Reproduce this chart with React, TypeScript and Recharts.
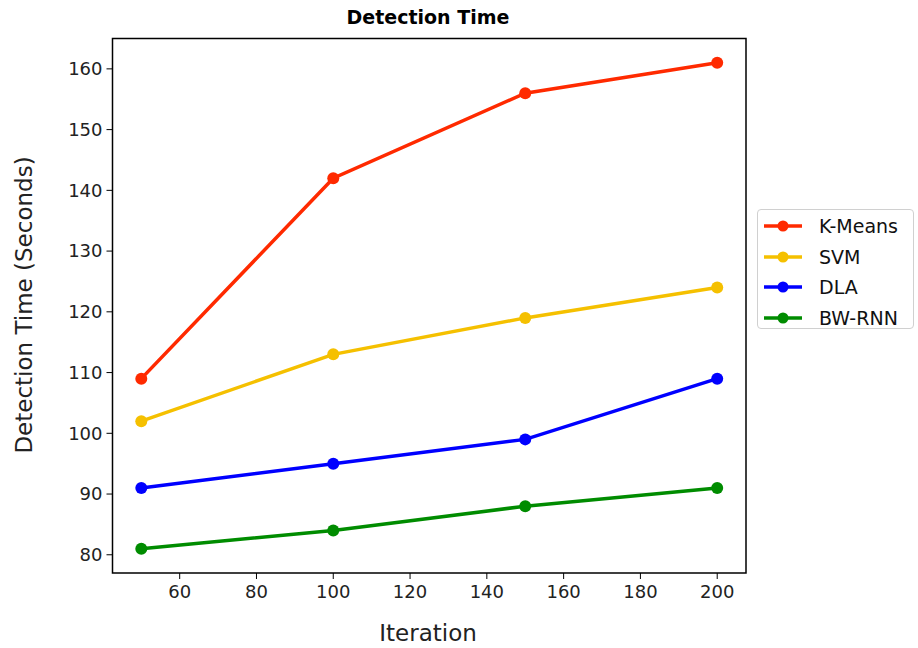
import React from "react";
import { LineChart, Line, XAxis, YAxis, ReferenceArea } from "recharts";

const iterations = [50, 100, 150, 200];
const kMeans = [109, 142, 156, 161];
const svm = [102, 113, 119, 124];
const dla = [91, 95, 99, 109];
const bwRnn = [81, 84, 88, 91];
const xTicks = [60, 80, 100, 120, 140, 160, 180, 200];
const yTicks = [80, 90, 100, 110, 120, 130, 140, 150, 160];

const seriesInfo = [
  { key: "kmeans", name: "K-Means", color: "#ff2a00" },
  { key: "svm", name: "SVM", color: "#f5c000" },
  { key: "dla", name: "DLA", color: "#0000ff" },
  { key: "bwrnn", name: "BW-RNN", color: "#008c00" },
];

const data = iterations.map((it, i) => ({
  it,
  kmeans: kMeans[i],
  svm: svm[i],
  dla: dla[i],
  bwrnn: bwRnn[i],
}));

const FONT = "'DejaVu Sans', sans-serif";

const LegendBox = () => (
  <div
    style={{
      position: "absolute",
      left: 757,
      top: 209,
      width: 157,
      height: 120,
      border: "1px solid #d0d0d0",
      borderRadius: 4,
      background: "#fff",
      padding: "1px 0 0 5px",
      fontFamily: FONT,
      fontSize: 19,
      color: "#111",
      boxSizing: "border-box",
    }}
  >
    {seriesInfo.map((s) => (
      <div key={s.key} style={{ display: "flex", alignItems: "center", height: 30.5 }}>
        <svg width={40} height={14} style={{ marginRight: 16 }}>
          <line x1={1} y1={7} x2={39} y2={7} stroke={s.color} strokeWidth={3.5} />
          <circle cx={20} cy={7} r={5.5} fill={s.color} />
        </svg>
        <span>{s.name}</span>
      </div>
    ))}
  </div>
);

export default function App() {
  return (
    <div style={{ position: "absolute", left: 0, top: 0, width: 918, height: 648, background: "#fff" }}>
      <LineChart
        width={918}
        height={648}
        data={data}
        margin={{ top: 38.5, right: 172, left: 0, bottom: 0 }}
      >
        <text x={428} y={24} textAnchor="middle" fontFamily={FONT} fontWeight="bold" fontSize={19} fill="#000">
          Detection Time
        </text>
        <text x={428} y={641} textAnchor="middle" fontFamily={FONT} fontSize={23} fill="#222">
          Iteration
        </text>
        <text
          x={32}
          y={305}
          textAnchor="middle"
          fontFamily={FONT}
          fontSize={23}
          fill="#222"
          transform="rotate(-90 32 305)"
        >
          Detection Time (Seconds)
        </text>
        <XAxis
          dataKey="it"
          type="number"
          domain={[42.5, 207.5]}
          ticks={xTicks}
          height={75}
          axisLine={false}
          tickLine={{ stroke: "#000", strokeWidth: 1 }}
          tickSize={6}
          tickMargin={6}
          tick={{ fontFamily: FONT, fontSize: 18, fill: "#222" }}
          allowDataOverflow
        />
        <YAxis
          type="number"
          domain={[77, 165]}
          ticks={yTicks}
          width={112.5}
          axisLine={false}
          tickLine={{ stroke: "#000", strokeWidth: 1 }}
          tickSize={6}
          tickMargin={4}
          tick={{ fontFamily: FONT, fontSize: 18, fill: "#222" }}
          allowDataOverflow
        />
        <ReferenceArea
          x1={42.5}
          x2={207.5}
          y1={77}
          y2={165}
          fill="none"
          fillOpacity={0}
          stroke="#000"
          strokeWidth={1.5}
          ifOverflow="visible"
        />
        {seriesInfo.map((s) => (
          <Line
            key={s.key}
            dataKey={s.key}
            name={s.name}
            stroke={s.color}
            strokeWidth={3.5}
            dot={{ r: 6, fill: s.color, stroke: s.color, strokeWidth: 0 }}
            activeDot={false}
            isAnimationActive={false}
          />
        ))}
      </LineChart>
      <LegendBox />
    </div>
  );
}
